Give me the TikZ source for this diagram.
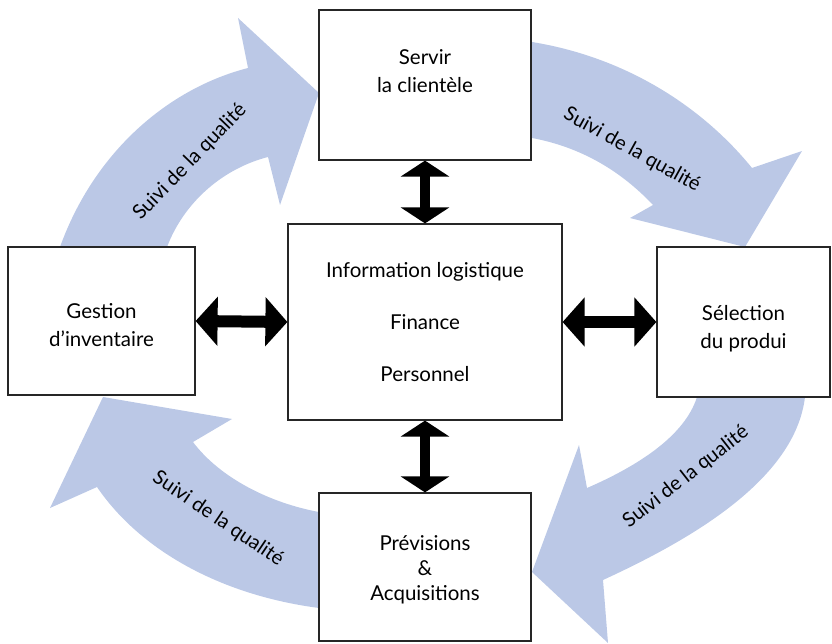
\documentclass[tikz,border=0pt]{standalone}
\usepackage{fontspec}
\setmainfont{Lato}
\usepackage{tikz}
\usetikzlibrary{arrows.meta}
\definecolor{bandblue}{RGB}{187,200,230}

\begin{document}
\begin{tikzpicture}[x=1pt,y=-1pt,
  box/.style={draw=black!85,line width=1.2pt,fill=white,align=center,
    inner sep=0pt,font=\fontsize{20.5}{28}\selectfont},
  band/.style={fill=bandblue},
  suivi/.style={font=\fontsize{20}{22}\selectfont},
  vboth/.style={line width=10pt,
    {Triangle[length=16pt,width=48pt]}-{Triangle[length=16pt,width=48pt]}},
  hboth/.style={line width=12pt,
    {Triangle[length=22pt,width=48pt]}-{Triangle[length=22pt,width=48pt]}}]
  \useasboundingbox (0,0) rectangle (832,644);
  % Quality bands
  \fill[band] (58,262) -- (60,247) .. controls (95,150) and (170,88) .. (248,68)
    -- (238,18) -- (319,93) -- (280,205) -- (268,157)
    .. controls (225,168) and (185,200) .. (167,247) -- (165,262) -- cycle;
  \fill[band] (520,40) -- (532,42) .. controls (630,58) and (705,110) .. (752,168)
    -- (802,151) -- (745,247) -- (630,218) -- (653,205)
    .. controls (620,170) and (580,147) .. (532,138) -- (520,136) -- cycle;
  \fill[band] (805,385) -- (805,397) .. controls (795,480) and (690,540) .. (603,580)
    -- (608,643) -- (532,572) -- (579,445) -- (587,488)
    .. controls (640,465) and (685,435) .. (697,397) -- (697,385) -- cycle;
  \fill[band] (330,610) -- (319,608) .. controls (220,595) and (140,550) .. (97,487)
    -- (50,508) -- (103,397) -- (232,419) -- (193,442)
    .. controls (220,478) and (270,503) .. (319,512) -- (330,514) -- cycle;
  \node[suivi,rotate=46] (q1) at (190,162) {Suivi de la qualité};
  \node[suivi,rotate=-29] (q2) at (632,150) {Suivi de la qualité};
  \node[suivi,rotate=38] (q3) at (686,477) {Suivi de la qualité};
  \node[suivi,rotate=-34] (q4) at (218,519) {Suivi de la qualité};
  % Boxes
  \node[box,minimum width=212pt,minimum height=150pt] (servir) at (425,85)
    {Servir\\la clientèle\\\mbox{}};
  \node[box,minimum width=274pt,minimum height=196pt] (info) at (425,322)
    {Information logistique\\[24pt]Finance\\[24pt]Personnel};
  \node[box,minimum width=187pt,minimum height=148pt] (gestion) at (101.5,321)
    {\mbox{}\\[-5pt]Gestion\\d’inventaire};
  \node[box,minimum width=173pt,minimum height=150pt] (select) at (743.5,322)
    {\mbox{}\\[1pt]Sélection\\du produi};
  \node[box,minimum width=212pt,minimum height=148pt] (prev) at (425,567)
    {\mbox{}\\[-7pt]Prévisions\\[-3pt]\&\\[-3pt]Acquisitions};
  % Links to the centre
  \draw[vboth] (servir.south) -- (info.north);
  \draw[vboth] (info.south) -- (prev.north);
  \draw[hboth] (gestion.east) -- (info.west);
  \draw[hboth] (info.east) -- (select.west);
\end{tikzpicture}
\end{document}
